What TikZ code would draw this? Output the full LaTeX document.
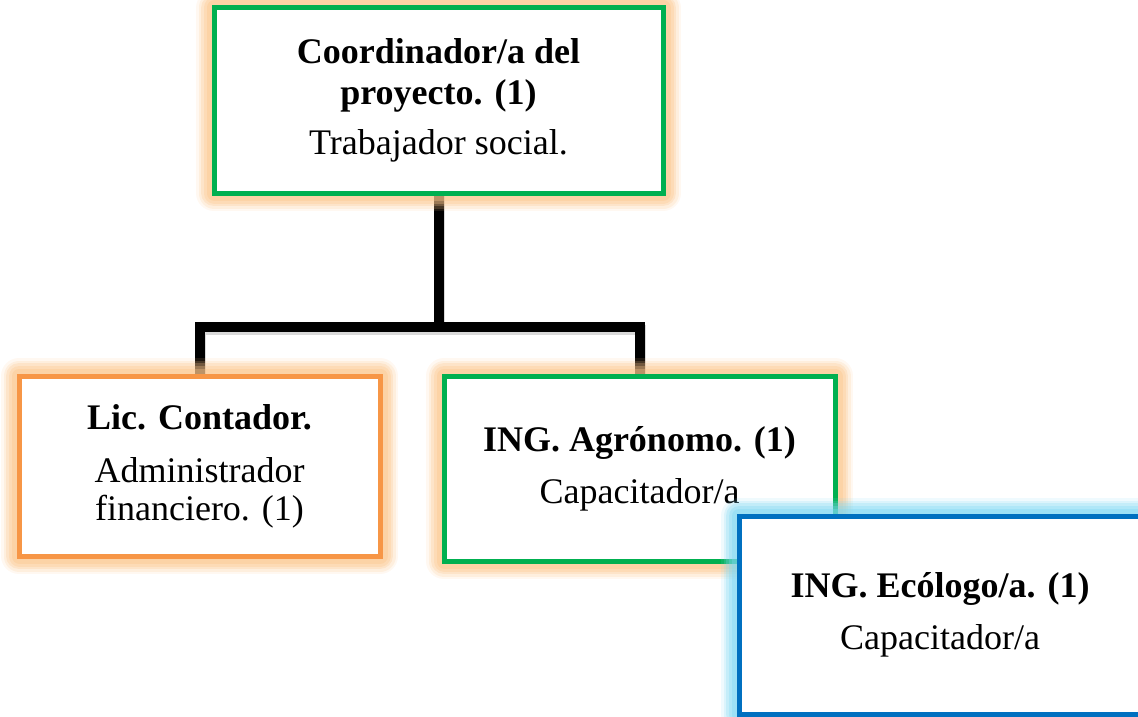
\documentclass[tikz,border=0pt]{standalone}
\usepackage{fontspec}
\setmainfont{Liberation Serif}
\usetikzlibrary{backgrounds}
\definecolor{verde}{HTML}{00B050}
\definecolor{naranja}{HTML}{F79646}
\definecolor{azul}{HTML}{0070C0}
\definecolor{brilloN}{HTML}{FBC58A}
\definecolor{brilloA}{HTML}{7ED8F3}
\tikzset{
  cargo/.style={draw=#1, line width=5pt, fill=white, outer sep=0pt, inner sep=0pt,
    align=center, font=\fontsize{36}{41}\selectfont},
  brillo/.style={preaction={draw=#1, line width=36pt, opacity=0.12, line join=round},
    preaction={draw=#1, line width=31pt, opacity=0.18, line join=round},
    preaction={draw=#1, line width=26pt, opacity=0.25, line join=round},
    preaction={draw=#1, line width=21pt, opacity=0.3, line join=round},
    preaction={draw=#1, line width=15pt, opacity=0.35, line join=round}},
  linea/.style={line width=10pt, line join=miter,
    preaction={draw=black!15, line width=10pt, transform canvas={shift={(1.5pt,-3pt)}}}}
}
\begin{document}
\begin{tikzpicture}[x=1pt, y=-1pt]
  \useasboundingbox (0,0) rectangle (1138,717);
  % cajas
  \node[cargo=verde, brillo=brilloN, minimum width=449pt, minimum height=185pt] (coord) at (438.5,100.5)
    {\textbf{Coordinador/a del}\\\textbf{proyecto. (1)}\\[9pt]Trabajador social.};
  \node[cargo=naranja, brillo=brilloN, minimum width=361pt, minimum height=180pt] (lic) at (199.5,466)
    {\textbf{Lic. Contador.}\\[12pt]Administrador\\[-3pt]financiero. (1)};
  \node[cargo=verde, brillo=brilloN, minimum width=391pt, minimum height=185pt] (agro) at (639.5,468.5)
    {\textbf{ING. Agrónomo. (1)}\\[11pt]Capacitador/a};
  \node[cargo=azul, brillo=brilloA, minimum width=402pt, minimum height=198pt] (eco) at (940,615)
    {\textbf{ING. Ecólogo/a. (1)}\\[11pt]Capacitador/a};
  % lineas
  \begin{pgfonlayer}{background}
    \coordinate (bus) at ([yshift=-134pt]coord.south);
    \draw[linea] (coord.south) -- (bus) -| (lic.north);
    \draw[linea] (bus) -| (agro.north);
  \end{pgfonlayer}
\end{tikzpicture}
\end{document}
